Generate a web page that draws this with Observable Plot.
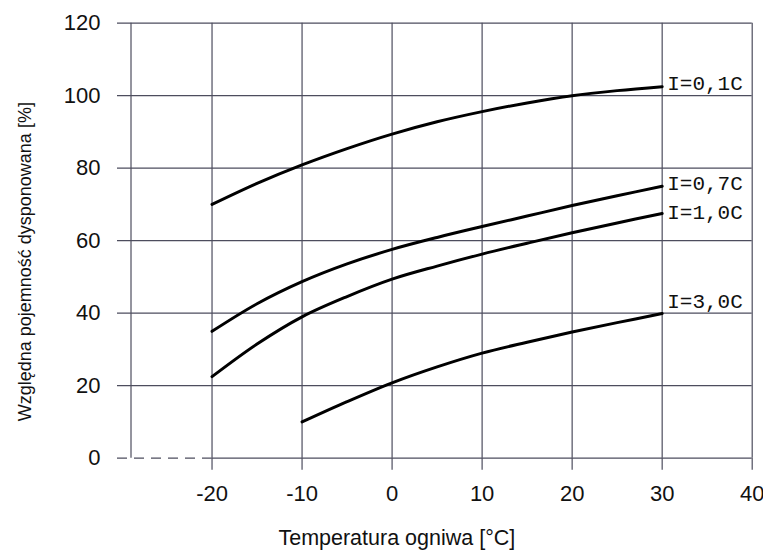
<!DOCTYPE html>
<html>
<head>
<meta charset="utf-8">
<script src="https://cdn.jsdelivr.net/npm/d3@7"></script>
<script src="https://cdn.jsdelivr.net/npm/@observablehq/plot@0.6"></script>
<style>
  html, body { margin: 0; padding: 0; background: #fff; }
  svg { display: block; }
</style>
</head>
<body>
<div id="chart"></div>
<script>
// ---- data ----
const temps = [-20, -15, -10, -5, 0, 5, 10, 15, 20, 25, 30];
const cap01 = [70, 75.8, 80.9, 85.4, 89.4, 92.8, 95.6, 98, 100, 101.4, 102.5];
const cap07 = [35, 42.6, 48.7, 53.6, 57.6, 60.9, 63.9, 66.8, 69.7, 72.4, 75];
const cap10 = [22.5, 31.5, 39, 44.6, 49.4, 53, 56.3, 59.3, 62.2, 64.9, 67.5];
const temps3 = [-10, -5, 0, 5, 10, 15, 20, 25, 30];
const cap30 = [10, 15.6, 20.8, 25.2, 29, 32, 34.8, 37.4, 39.9];

const seriesNames = ["I=0,1C", "I=0,7C", "I=1,0C", "I=3,0C"];
const labelX = [30, 30, 30, 30];
const labelY = [103.4, 75.9, 67.8, 43.3];

const xTicks = [-20, -10, 0, 10, 20, 30, 40];
const yTicks = [0, 20, 40, 60, 80, 100, 120];
const xDomain = [-30.5, 40];
const yDomain = [0, 120];
const yAxisX = [-29];
const dashedZeroX = [-30.5, -20];

const xTitle = "Temperatura ogniwa [°C]";
const yTitle = "Względna pojemność dysponowana [%]";

// ---- tables built from arrays ----
const rows = [];
temps.forEach((t, i) => rows.push({T: t, v: cap01[i], s: seriesNames[0]}));
temps.forEach((t, i) => rows.push({T: t, v: cap07[i], s: seriesNames[1]}));
temps.forEach((t, i) => rows.push({T: t, v: cap10[i], s: seriesNames[2]}));
temps3.forEach((t, i) => rows.push({T: t, v: cap30[i], s: seriesNames[3]}));
const labels = seriesNames.map((s, i) => ({s, x: labelX[i], y: labelY[i]}));

const grid = "#4d4d5e";

const chart = Plot.plot({
  width: 763,
  height: 551,
  marginLeft: 117,
  marginRight: 11.3,
  marginTop: 22.7,
  marginBottom: 93.3,
  x: {domain: xDomain},
  y: {domain: yDomain},
  style: {
    fontFamily: "'Liberation Sans', Arial, sans-serif",
    fontSize: "22px",
    color: "#111",
    background: "#fff"
  },
  marks: [
    Plot.ruleY(yTicks.filter(d => d > 0), {stroke: grid, strokeWidth: 1.2}),
    Plot.ruleY([0], {x1: dashedZeroX[1], x2: xDomain[1], stroke: grid, strokeWidth: 1.2}),
    Plot.ruleY([0], {x1: dashedZeroX[0], x2: dashedZeroX[1], stroke: grid, strokeWidth: 1.2, strokeDasharray: "10,7"}),
    Plot.ruleX(xTicks, {y1: yDomain[0], y2: yDomain[1], stroke: grid, strokeWidth: 1.2}),
    Plot.ruleX(yAxisX, {y1: yDomain[0], y2: yDomain[1], stroke: grid, strokeWidth: 1.2}),
    Plot.axisX(xTicks, {tickSize: 12, tickPadding: 15, stroke: grid, strokeWidth: 1.2, label: null, tickFormat: d => String(d)}),
    Plot.axisY(yTicks, {tickSize: 0, tickPadding: 17, label: null, tickFormat: d => String(d)}),
    Plot.line(rows, {x: "T", y: "v", z: "s", stroke: "#000", strokeWidth: 3, curve: "catmull-rom"}),
    Plot.text(labels, {x: "x", y: "y", text: "s", textAnchor: "start", dx: 5,
      fontFamily: "'Liberation Mono', 'DejaVu Sans Mono', monospace", fontSize: 21, fill: "#111"}),
    Plot.text([xTitle], {frameAnchor: "bottom", text: d => d, textAnchor: "middle", lineAnchor: "middle", dx: -38, dy: 80, fontSize: 21.5, fill: "#111"}),
    Plot.text([yTitle], {frameAnchor: "left", text: d => d, textAnchor: "middle", lineAnchor: "middle", rotate: -90, dx: -92, dy: 21, fontSize: 18, fill: "#111"})
  ]
});
document.getElementById("chart").appendChild(chart);
</script>
</body>
</html>
